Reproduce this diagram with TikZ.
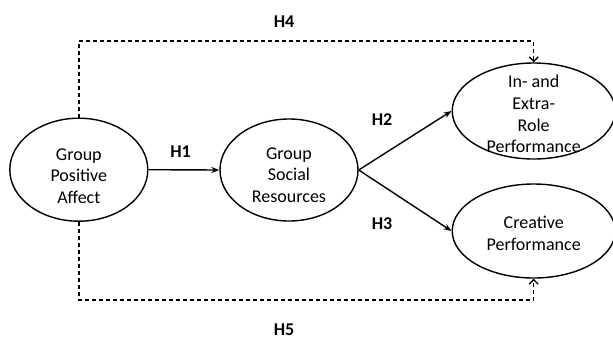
\documentclass[tikz,border=0pt]{standalone}
\usepackage{fontspec}
\setmainfont{Carlito}
\usetikzlibrary{shapes.geometric,arrows.meta}
\begin{document}
\begin{tikzpicture}[x=1pt,y=-1pt,
  oval/.style={draw,line width=1.4pt,ellipse,inner sep=0pt},
  txt/.style={align=center,font=\fontsize{18}{21.7}\selectfont,inner sep=0pt},
  hlab/.style={font=\fontsize{18}{20}\selectfont\bfseries,inner sep=0pt},
  solidarrow/.style={line width=1.4pt,-{Stealth[length=8pt,width=6pt]}},
  dasharrow/.style={line width=1.4pt,dash pattern=on 4pt off 3pt,-{Straight Barb[length=4.5pt,width=9pt]}}]
\useasboundingbox (0,0) rectangle (613,341);
\node[oval,minimum width=138pt,minimum height=103pt] (gpa) at (78.8,169.7) {};
\node[oval,minimum width=138pt,minimum height=102pt] (gsr) at (289,170) {};
\node[oval,minimum width=163pt,minimum height=96pt] (irp) at (533.7,111) {};
\node[oval,minimum width=163pt,minimum height=94pt] (cp) at (533.7,231) {};
\node[txt] (gpat) at (78.8,176) {Group\\Positive\\Affect};
\node[txt] (gsrt) at (289,175) {Group\\Social\\Resources};
\node[txt] (irpt) at (533.7,114) {In- and\\Extra-\\Role\\Performance};
\node[txt] (cpt) at (533.7,233.5) {Creative\\Performance};
\node[hlab] (h1) at (180.6,151.7) {H1};
\node[hlab] (h2) at (382,119.3) {H2};
\node[hlab] (h3) at (382,224) {H3};
\node[hlab] (h4) at (284,21.7) {H4};
\node[hlab] (h5) at (284,330) {H5};
\draw[solidarrow] (gpa.east) -- (gsr.west);
\draw[solidarrow] (gsr.east) -- (irp.west);
\draw[solidarrow] (gsr.east) -- (cp.west);
\draw[dasharrow] (gpa.north) -- ++(0,-76.5) -| (irp.north);
\draw[dasharrow] (gpa.south) -- ++(0,78) -| (cp.south);
\end{tikzpicture}
\end{document}
